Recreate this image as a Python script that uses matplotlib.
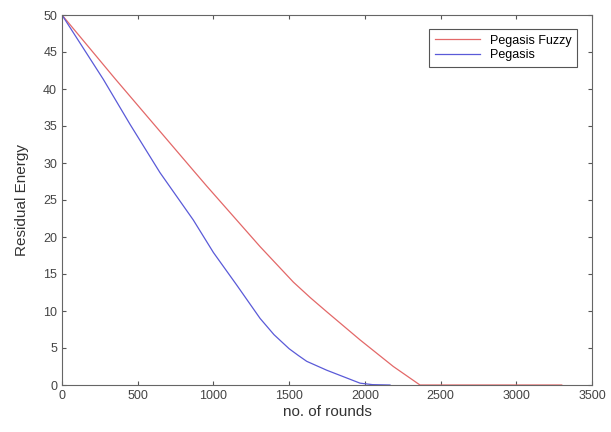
import matplotlib
matplotlib.use("Agg")
import matplotlib.pyplot as plt

plt.rcParams["font.family"] = ["Liberation Sans", "DejaVu Sans"]

# Pegasis Fuzzy (red)
fuzzy_rounds = [0, 350, 867, 955, 1308, 1528, 1640, 1748, 1968, 2188, 2364, 3300]
fuzzy_energy = [50, 41.4, 29.0, 26.9, 18.7, 13.9, 11.8, 9.9, 6.1, 2.5, 0.0, 0.0]

# Pegasis (blue)
peg_rounds = [0, 273, 450, 647, 867, 1000, 1154, 1308, 1400, 1500, 1560, 1616, 1748, 1968, 2050, 2166]
peg_energy = [50, 41.3, 35.2, 28.7, 22.3, 17.9, 13.5, 9.0, 6.8, 4.9, 4.0, 3.2, 2.0, 0.25, 0.05, 0.0]

x_ticks = list(range(0, 3501, 500))
y_ticks = list(range(0, 51, 5))

fig = plt.figure(figsize=(6.11, 4.32), dpi=100)
ax = fig.add_axes([62 / 611, 1 - 385 / 432, 530 / 611, 370 / 432])

ax.plot(fuzzy_rounds, fuzzy_energy, color="#e36868", lw=0.9, label="Pegasis Fuzzy")
ax.plot(peg_rounds, peg_energy, color="#5a5ad8", lw=0.9, label="Pegasis")

ax.set_xlim(0, 3500)
ax.set_ylim(0, 50)
ax.set_xticks(x_ticks)
ax.set_yticks(y_ticks)
ax.tick_params(direction="in", top=True, right=True, length=3, labelsize=9,
               colors="#555555", labelcolor="#444444")
for s in ax.spines.values():
    s.set_color("#666666")
    s.set_linewidth(0.8)

ax.set_xlabel("no. of rounds", fontsize=11, color="#333333", labelpad=2)
ax.set_ylabel("Residual Energy", fontsize=11, color="#333333", labelpad=10)

leg = ax.legend(loc="upper right", fontsize=9, fancybox=False, framealpha=1,
                edgecolor="#555555", borderpad=0.45, handlelength=3.6,
                labelspacing=0.2, borderaxespad=0,
                bbox_to_anchor=(0.972, 0.962))
leg.get_frame().set_linewidth(0.8)

fig.savefig("out.png", dpi=100)
